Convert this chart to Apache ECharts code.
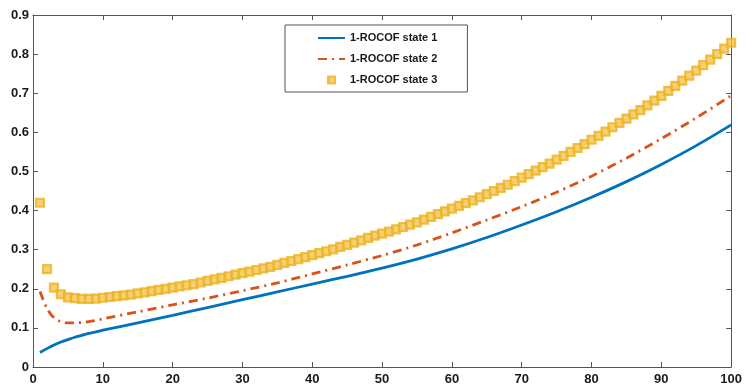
<!DOCTYPE html>
<html><head><meta charset="utf-8">
<script src="https://cdn.jsdelivr.net/npm/echarts@6/dist/echarts.min.js"></script>
<style>html,body{margin:0;padding:0;background:#fff}#c{width:745px;height:388px}</style>
</head><body><div id="c"></div>
<script>
const seriesNames = ['1-ROCOF state 1', '1-ROCOF state 2', '1-ROCOF state 3'];
const xTickLabels = [0, 10, 20, 30, 40, 50, 60, 70, 80, 90, 100];
const yTickLabels = [0, 0.1, 0.2, 0.3, 0.4, 0.5, 0.6, 0.7, 0.8, 0.9];

// state 1 (solid blue line)
const s1X = [1, 2, 3, 4, 5, 6, 7, 8, 9, 10, 15, 20, 25, 30, 35, 40, 45, 50, 55, 60, 65, 70, 75, 80, 85, 90, 95, 100];
const s1Y = [0.037, 0.047, 0.056, 0.064, 0.070, 0.076, 0.081, 0.086, 0.090, 0.094, 0.113, 0.132, 0.152, 0.172, 0.192, 0.212, 0.232, 0.253, 0.276, 0.302, 0.331, 0.363, 0.397, 0.434, 0.474, 0.518, 0.566, 0.619];

// state 2 (dash-dot orange line)
const s2X = [1, 2, 3, 4, 5, 6, 7, 8, 9, 10, 15, 20, 25, 30, 35, 40, 45, 50, 55, 60, 65, 70, 75, 80, 85, 90, 95, 100];
const s2Y = [0.193, 0.150, 0.126, 0.116, 0.113, 0.113, 0.114, 0.116, 0.119, 0.123, 0.141, 0.159, 0.176, 0.195, 0.215, 0.238, 0.261, 0.285, 0.312, 0.343, 0.376, 0.410, 0.447, 0.488, 0.534, 0.584, 0.637, 0.694];

// state 3 (square markers), x = 1..100
const s3Y = [0.420, 0.250, 0.203, 0.186, 0.178, 0.176, 0.174, 0.174, 0.175, 0.177,
             0.179, 0.181, 0.183, 0.185, 0.188, 0.191, 0.194, 0.197, 0.200, 0.203,
             0.206, 0.209, 0.212, 0.216, 0.220, 0.224, 0.228, 0.232, 0.236, 0.240,
             0.244, 0.248, 0.252, 0.256, 0.261, 0.266, 0.271, 0.276, 0.281, 0.286,
             0.291, 0.296, 0.301, 0.307, 0.312, 0.318, 0.324, 0.330, 0.336, 0.341,
             0.346, 0.352, 0.358, 0.364, 0.370, 0.377, 0.384, 0.391, 0.398, 0.405,
             0.412, 0.419, 0.426, 0.434, 0.442, 0.450, 0.458, 0.466, 0.475, 0.484,
             0.493, 0.502, 0.511, 0.520, 0.530, 0.540, 0.550, 0.560, 0.570, 0.581,
             0.591, 0.602, 0.613, 0.624, 0.635, 0.646, 0.657, 0.669, 0.681, 0.693,
             0.706, 0.719, 0.732, 0.745, 0.758, 0.772, 0.786, 0.800, 0.814, 0.829];

const chart = echarts.init(document.getElementById('c'), null, {renderer: 'canvas'});
const axisColor = '#555555';
const labelStyle = {color: '#1a1a1a', fontFamily: 'Liberation Sans, Arial, sans-serif', fontWeight: 'bold', fontSize: 13};

function xAxisDef(pos, showLabel) {
  return {
    type: 'value', position: pos, min: xTickLabels[0], max: xTickLabels[xTickLabels.length - 1], interval: 10,
    axisLine: {show: true, onZero: false, lineStyle: {color: axisColor, width: 1}},
    axisTick: {show: true, inside: true, length: 5, lineStyle: {color: axisColor}},
    axisLabel: Object.assign({show: showLabel, margin: 6}, labelStyle),
    splitLine: {show: false}
  };
}
function yAxisDef(pos, showLabel) {
  return {
    type: 'value', position: pos, min: yTickLabels[0], max: yTickLabels[yTickLabels.length - 1], interval: 0.1,
    axisLine: {show: true, onZero: false, lineStyle: {color: axisColor, width: 1}},
    axisTick: {show: true, inside: true, length: 5, lineStyle: {color: axisColor}},
    axisLabel: Object.assign({show: showLabel, margin: 4, formatter: v => (Math.round(v * 10) / 10).toString()}, labelStyle),
    splitLine: {show: false}
  };
}

chart.setOption({
  animation: false,
  backgroundColor: '#ffffff',
  grid: {left: 33, right: 8, top: 15, bottom: 21, containLabel: false},
  xAxis: [xAxisDef('bottom', true), xAxisDef('top', false)],
  yAxis: [yAxisDef('left', true), yAxisDef('right', false)],
  legend: {
    orient: 'vertical', left: 285, top: 25,
    padding: [6, 30, 5, 32],
    itemWidth: 27, itemHeight: 10, itemGap: 7,
    backgroundColor: '#ffffff', borderColor: '#555555', borderWidth: 1,
    textStyle: {color: '#1a1a1a', fontFamily: 'Liberation Sans, Arial, sans-serif', fontWeight: 'bold', fontSize: 11, lineHeight: 14},
    data: [
      {name: seriesNames[0], itemStyle: {opacity: 0}},
      {name: seriesNames[1], itemStyle: {opacity: 0}},
      {name: seriesNames[2], icon: 'path://M0,0 M27,10 M10,1.5 L17,1.5 L17,8.5 L10,8.5 Z'}
    ]
  },
  series: [
    {
      name: seriesNames[0], type: 'line', symbol: 'none', showSymbol: false, smooth: 0.3,
      xAxisIndex: 0, yAxisIndex: 0,
      lineStyle: {color: '#0072BD', width: 2.8},
      itemStyle: {color: '#0072BD'},
      data: s1X.map((x, i) => [x, s1Y[i]])
    },
    {
      name: seriesNames[1], type: 'line', symbol: 'none', showSymbol: false, smooth: 0.3,
      xAxisIndex: 0, yAxisIndex: 0,
      lineStyle: {color: '#D95319', width: 2.8, type: [9, 5, 2, 5]},
      itemStyle: {color: '#D95319'},
      data: s2X.map((x, i) => [x, s2Y[i]])
    },
    {
      name: seriesNames[2], type: 'scatter', symbol: 'rect', symbolSize: 8,
      xAxisIndex: 0, yAxisIndex: 0,
      itemStyle: {color: '#F2C654', borderColor: '#EDB120', borderWidth: 2.2},
      data: s3Y.map((y, i) => [i + 1, y])
    }
  ]
});
</script></body></html>
